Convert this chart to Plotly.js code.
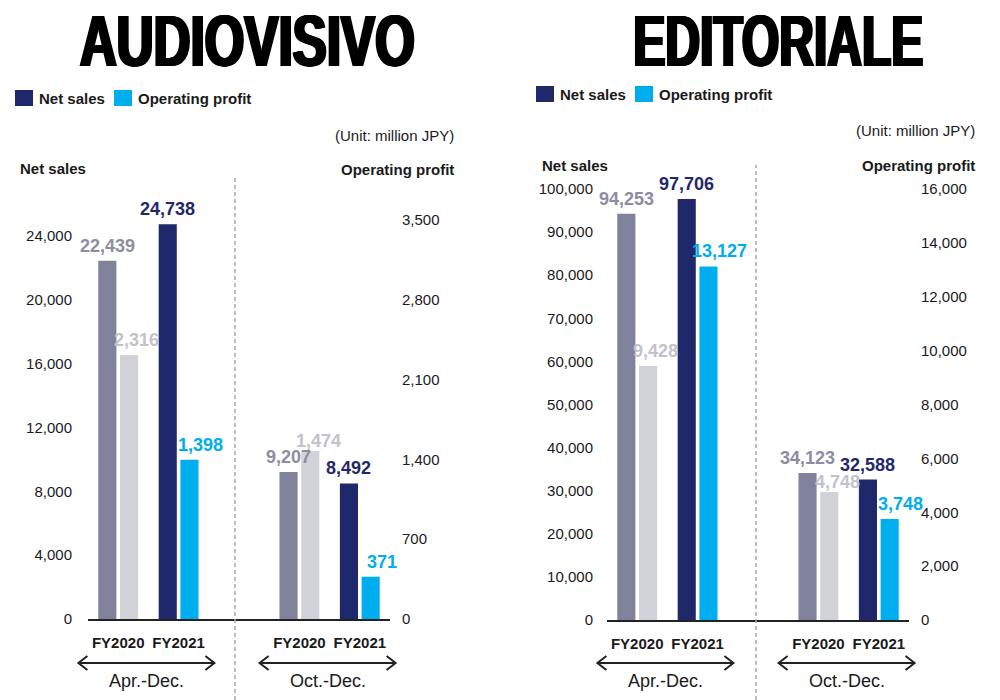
<!DOCTYPE html>
<html><head><meta charset="utf-8">
<script src="https://cdn.plot.ly/plotly-3.0.1.min.js"></script>
<style>html,body{margin:0;padding:0;background:#fff}#chart{width:1000px;height:700px}</style>
</head><body><div id="chart"></div>
<script>
// ---------- DATA ----------
const segments = ["AUDIOVISIVO", "EDITORIALE"];
const periods = ["Apr.-Dec.", "Oct.-Dec."];
const years = ["FY2020", "FY2021"];
// order: Apr.-Dec. FY2020, Apr.-Dec. FY2021, Oct.-Dec. FY2020, Oct.-Dec. FY2021
const audiovisivoNetSales = [22439, 24738, 9207, 8492];
const audiovisivoOpProfit = [2316, 1398, 1474, 371];
const editorialeNetSales = [94253, 97706, 34123, 32588];
const editorialeOpProfit = [9428, 13127, 4748, 3748];
const audiovisivoNetSalesTicks = [0, 4000, 8000, 12000, 16000, 20000, 24000];
const audiovisivoOpProfitTicks = [0, 700, 1400, 2100, 2800, 3500];
const editorialeNetSalesTicks = [0, 10000, 20000, 30000, 40000, 50000, 60000, 70000, 80000, 90000, 100000];
const editorialeOpProfitTicks = [0, 2000, 4000, 6000, 8000, 10000, 12000, 14000, 16000];
const legendLabels = ["Net sales", "Operating profit"];
const axisTitles = ["Net sales", "Operating profit"];
const unitLabel = "(Unit: million JPY)";

// ---------- STYLE ----------
const FONT = "Liberation Sans, Arial, sans-serif";
const COL = {
  ns: ["#80819a", "#1f286b"],      // net sales FY2020, FY2021
  op: ["#d2d2d9", "#00adee"],      // operating profit FY2020, FY2021
  nsLab: ["#8d8d9f", "#1f286b"],
  opLab: ["#c2c2cb", "#00adee"],
  txt: "#1a1a1a", sep: "#a8a8a8"
};
const W = 1000, H = 700;
const px = v => v / W;            // pixel x -> paper
const py = v => 1 - v / H;        // pixel y -> paper
const opLabelYShift = [3, 3, -2, 3];   // per bar slot, value-label lift in px
const opLabelXShift = [7, 11, 8, 11];  // per bar slot, value-label nudge in px

const panels = [
  { title: segments[0], ns: audiovisivoNetSales, op: audiovisivoOpProfit,
    nsTicks: audiovisivoNetSalesTicks, opTicks: audiovisivoOpProfitTicks,
    nsMax: 25000, opMax: 3500, xPx: [88, 390], yPx: [619, 220],
    titleX: 247, titleW: 335, legendX: 15, legendY: 98, unitY: 135, axTitleY: 168, sepX: 235, sepTop: 178,
    leftLabX: 18, rightLabX: 456, standL: 15, standR: 11 },
  { title: segments[1], ns: editorialeNetSales, op: editorialeOpProfit,
    nsTicks: editorialeNetSalesTicks, opTicks: editorialeOpProfitTicks,
    nsMax: 100000, opMax: 16000, xPx: [607, 909], yPx: [620, 189],
    titleX: 778, titleW: 290, legendX: 536, legendY: 94, unitY: 130, axTitleY: 165, sepX: 756, sepTop: 165,
    leftLabX: 540, rightLabX: 977, standL: 13, standR: 11 }
];

// x positions: period index * 3 + year index
const xPos = [], yearIdx = [];
periods.forEach((p, i) => years.forEach((y, j) => { xPos.push(i * 3 + j); yearIdx.push(j); }));
const xRange = [-0.5, 4.5];
const NS_OFF = -0.33, OP_OFF = 0.03, BW = 0.30;
const fmt = v => v.toLocaleString("en-US");

const data = [], annotations = [], shapes = [];
const layout = {
  width: W, height: H, margin: { l: 0, r: 0, t: 0, b: 0 },
  paper_bgcolor: "#fff", plot_bgcolor: "rgba(0,0,0,0)",
  barmode: "overlay", showlegend: false,
  font: { family: FONT, color: COL.txt, size: 15 },
  annotations, shapes
};

panels.forEach((P, k) => {
  const xa = k === 0 ? "x" : "x2";
  const yL = k === 0 ? "y" : "y3";
  const yR = k === 0 ? "y2" : "y4";
  const xaName = k === 0 ? "xaxis" : "xaxis2";
  const yLName = k === 0 ? "yaxis" : "yaxis3";
  const yRName = k === 0 ? "yaxis2" : "yaxis4";
  const xdom = [px(P.xPx[0]), px(P.xPx[1])];
  const ydom = [py(P.yPx[0]), py(P.yPx[1])];

  data.push({
    type: "bar", x: xPos, y: P.ns, xaxis: xa, yaxis: yL,
    offset: NS_OFF, width: BW, hoverinfo: "skip",
    marker: { color: yearIdx.map(j => COL.ns[j]), line: { width: 0 } }
  });
  data.push({
    type: "bar", x: xPos, y: P.op, xaxis: xa, yaxis: yR,
    offset: OP_OFF, width: BW, hoverinfo: "skip",
    marker: { color: yearIdx.map(j => COL.op[j]), line: { width: 0 } }
  });

  layout[xaName] = {
    domain: xdom, anchor: yL, range: xRange, fixedrange: true,
    tickvals: xPos, ticktext: xPos.map((_, i) => years[yearIdx[i]]),
    tickfont: { family: FONT, size: 15, weight: "bold", color: COL.txt },
    ticks: "", ticklabelstandoff: 9,
    showgrid: false, zeroline: false,
    showline: true, linecolor: "#222", linewidth: 2
  };
  layout[yLName] = {
    domain: ydom, anchor: xa, range: [0, P.nsMax], fixedrange: true,
    tickvals: P.nsTicks, ticktext: P.nsTicks.map(fmt),
    tickfont: { family: FONT, size: 15, color: COL.txt },
    ticks: "", ticklabelstandoff: P.standL,
    showgrid: false, zeroline: false, showline: false
  };
  layout[yRName] = {
    overlaying: yL, side: "right", anchor: xa, range: [0, P.opMax], fixedrange: true,
    tickvals: P.opTicks, ticktext: P.opTicks.map(fmt),
    tickfont: { family: FONT, size: 15, color: COL.txt },
    ticks: "", ticklabelstandoff: P.standR,
    showgrid: false, zeroline: false, showline: false
  };

  // value labels
  xPos.forEach((x, i) => {
    const j = yearIdx[i];
    annotations.push({
      xref: xa, yref: yL, x: x + NS_OFF + BW / 2, y: P.ns[i],
      text: fmt(P.ns[i]), showarrow: false, yanchor: "bottom", yshift: 3,
      font: { family: FONT, size: 18, weight: "bold", color: COL.nsLab[j] }
    });
    annotations.push({
      xref: xa, yref: yR, x: x + OP_OFF + BW / 2, y: P.op[i],
      text: fmt(P.op[i]), showarrow: false, yanchor: "bottom",
      yshift: opLabelYShift[i], xshift: opLabelXShift[i],
      font: { family: FONT, size: 18, weight: "bold", color: COL.opLab[j] }
    });
  });

  // big segment title
  annotations.push({
    xref: "paper", yref: "paper", x: px(P.titleX), y: py(40),
    text: P.title, showarrow: false, xanchor: "center", yanchor: "middle",
    font: { family: "Liberation Sans, Arial, sans-serif", size: 73, weight: "bold", color: "#000",
            shadow: "2px 0 0 #000, -2px 0 0 #000, 1px 0 0 #000, -1px 0 0 #000" }
  });

  // legend (swatch + label)
  const lg = [[P.legendX, COL.ns[1]], [P.legendX + 99, COL.op[1]]];
  lg.forEach(([lx, c], m) => {
    shapes.push({ type: "rect", xref: "paper", yref: "paper",
      x0: px(lx), x1: px(lx + 18), y0: py(P.legendY + 8), y1: py(P.legendY - 8),
      fillcolor: c, line: { width: 0 } });
    annotations.push({ xref: "paper", yref: "paper", x: px(lx + 22), y: py(P.legendY),
      text: legendLabels[m], showarrow: false, xanchor: "left", yanchor: "middle",
      font: { family: FONT, size: 15, weight: "bold", color: COL.txt } });
  });

  // unit label
  annotations.push({ xref: "paper", yref: "paper", x: px(P.rightLabX), y: py(P.unitY),
    text: unitLabel, showarrow: false, xanchor: "right", yanchor: "middle",
    font: { family: FONT, size: 15, color: COL.txt } });
  // axis titles
  annotations.push({ xref: "paper", yref: "paper", x: px(P.leftLabX), y: py(P.axTitleY),
    text: axisTitles[0], showarrow: false, xanchor: "left", yanchor: "middle",
    font: { family: FONT, size: 15, weight: "bold", color: COL.txt } });
  annotations.push({ xref: "paper", yref: "paper", x: px(P.rightLabX), y: py(P.axTitleY + 1),
    text: axisTitles[1], showarrow: false, xanchor: "right", yanchor: "middle",
    font: { family: FONT, size: 15, weight: "bold", color: COL.txt } });

  // dashed separator
  shapes.push({ type: "line", xref: "paper", yref: "paper",
    x0: px(P.sepX), x1: px(P.sepX), y0: 0, y1: py(P.sepTop),
    line: { color: COL.sep, width: 1.5, dash: "4px,3px" } });

  // period arrows and labels
  const unitPx = (P.xPx[1] - P.xPx[0]) / (xRange[1] - xRange[0]);
  periods.forEach((per, i) => {
    const cx = (xPos[i * 2] + xPos[i * 2 + 1]) / 2;
    const cpx = P.xPx[0] + (cx - xRange[0]) * unitPx - 2;
    const a = cpx - 68, b = cpx + 68, yy = 663;
    const path = `M ${px(a)},${py(yy)} L ${px(b)},${py(yy)} ` +
      `M ${px(a + 9)},${py(yy - 7)} L ${px(a)},${py(yy)} L ${px(a + 9)},${py(yy + 7)} ` +
      `M ${px(b - 9)},${py(yy - 7)} L ${px(b)},${py(yy)} L ${px(b - 9)},${py(yy + 7)}`;
    shapes.push({ type: "path", xref: "paper", yref: "paper", path,
      line: { color: "#222", width: 2 } });
    annotations.push({ xref: "paper", yref: "paper", x: px(cpx), y: py(681),
      text: per, showarrow: false, xanchor: "center", yanchor: "middle",
      font: { family: FONT, size: 18, color: COL.txt } });
  });
});

Plotly.newPlot("chart", data, layout, { staticPlot: true, displayModeBar: false }).then(() => {
  // condense the heavy segment titles horizontally to the poster-style width
  document.querySelectorAll("#chart .annotation-text").forEach(t => {
    const P = panels.find(p => p.title === t.textContent);
    if (!P) return;
    const bb = t.getBBox();
    if (!bb.width) return;
    t.style.transformBox = "fill-box";
    t.style.transformOrigin = "center";
    t.style.transform = `scaleX(${(P.titleW / bb.width).toFixed(4)})`;
  });
});
</script>
</body></html>
